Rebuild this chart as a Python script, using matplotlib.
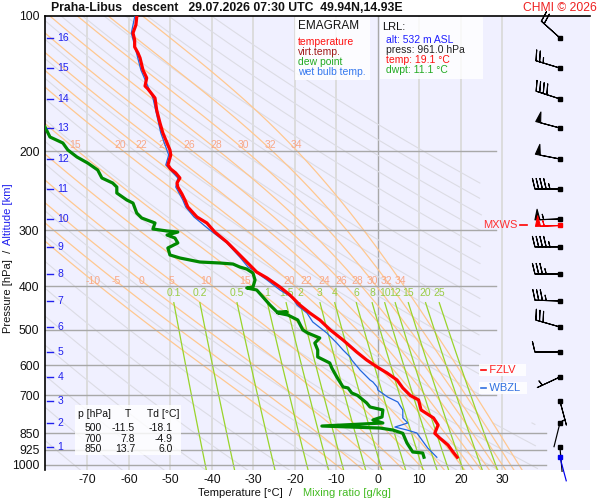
import numpy as np
import matplotlib
matplotlib.use("Agg")
import matplotlib.pyplot as plt
from matplotlib.patches import Rectangle

plt.rcParams['font.family'] = ['Liberation Sans', 'DejaVu Sans']

# ---------------- data ----------------
# temperature profile
T_p = [100.5, 104.7, 109.1, 113.1, 117.2, 120.9, 124.0, 131.9, 137.4, 143.2, 145.4, 152.3,
       161.9, 173.1, 182.2, 191.8, 198.8, 204.0, 214.7, 219.2, 223.7, 229.5, 235.5, 240.4,
       249.2, 256.9, 266.3, 280.3, 289.1, 302.8, 318.6, 335.4, 353.1, 371.7, 383.3, 401.4,
       418.2, 440.2, 458.6, 475.4, 500.0, 526.8, 560.3, 583.7, 604.9, 623.8, 646.6, 673.6,
       700.0, 716.4, 754.1, 785.7, 814.5, 850.0, 870.9, 902.7, 935.6, 961.0]
T_t = [-58.1, -58.3, -59.0, -58.6, -58.6, -57.8, -57.3, -56.6, -55.7, -56.1, -55.4, -53.7,
       -53.3, -52.5, -51.8, -50.8, -50.1, -49.9, -50.6, -49.9, -48.7, -47.7, -48.4, -48.2,
       -47.2, -46.5, -45.8, -43.6, -41.2, -39.3, -36.4, -34.0, -31.6, -29.2, -26.7, -23.6,
       -21.2, -18.8, -16.4, -14.0, -11.5, -8.4, -5.1, -2.7, -0.2, 2.2, 4.6, 6.0,
       7.8, 9.8, 10.4, 13.4, 14.5, 13.7, 14.9, 16.9, 18.1, 19.1]

# dew point profile
Td_p = [176.7, 186.0, 191.8, 198.8, 206.1, 212.6, 220.3, 229.5, 235.5, 240.4, 247.9, 256.9,
        261.0, 274.7, 281.8, 289.1, 298.1, 301.2, 302.8, 307.5, 312.2, 320.2, 328.6, 340.6,
        345.9, 353.1, 354.9, 356.8, 362.2, 366.1, 373.6, 387.3, 401.4, 403.4, 407.6, 422.5,
        440.2, 456.3, 456.3, 458.6, 463.4, 475.4, 500.0, 508.2, 521.4, 535.0, 554.5, 574.6,
        592.6, 608.1, 636.8, 670.1, 673.6, 691.1, 700.0, 727.6, 742.7, 754.1, 781.7, 793.9,
        806.2, 818.9, 827.3, 835.8, 850.0, 893.4, 935.6, 940.4, 961.0]
Td_t = [-80.2, -79.0, -75.9, -74.7, -72.5, -69.9, -67.5, -66.5, -63.9, -62.9, -62.9, -60.5,
        -59.0, -58.1, -56.9, -53.7, -54.2, -50.8, -48.2, -50.8, -48.9, -48.2, -50.6, -50.1,
        -47.7, -42.9, -38.1, -34.9, -33.3, -31.6, -30.1, -29.6, -30.1, -31.6, -29.2, -27.7,
        -26.0, -24.3, -21.9, -24.1, -21.7, -19.3, -18.1, -16.9, -14.0, -15.2, -14.5, -14.5,
        -11.6, -11.1, -9.9, -8.4, -7.2, -6.3, -4.9, -2.7, -1.9, 1.2, 1.0, -1.2,
        1.2, -13.5, 0.5, 3.6, 6.0, 7.0, 8.4, 10.8, 11.1]

# wet bulb temperature profile
Tw_p = [100.5, 109.1, 131.9, 152.3, 182.2, 204.0, 214.7, 229.5, 240.4, 256.9, 266.3, 280.3,
        299.7, 320.2, 344.1, 362.2, 368.0, 387.3, 407.6, 424.7, 440.2, 458.6, 480.2, 508.2,
        535.0, 554.5, 574.6, 583.7, 614.4, 646.6, 653.3, 670.1, 681.0, 706.1, 724.0, 754.1,
        785.7, 806.2, 823.1, 835.8, 848.7, 879.6, 916.6, 961.0]
Tw_t = [-58.6, -59.4, -57.1, -54.2, -52.3, -50.4, -51.1, -48.2, -48.7, -47.0, -46.3, -44.3,
        -40.5, -36.4, -33.3, -31.3, -30.1, -26.7, -23.6, -20.5, -19.5, -17.1, -15.7, -12.3,
        -9.9, -8.4, -6.7, -6.3, -4.3, -1.9, -1.2, -0.2, 0.0, 2.4, 4.8, 6.0,
        6.0, 7.2, 4.1, 7.0, 9.4, 10.6, 12.0, 14.2]

# altitude marks (km) and winds at those heights
alt_km = ['16', '15', '14', '13', '12', '11', '10', '9', '8', '7', '6', '5', '4', '3', '2', '1']
alt_p = [111.9, 130.6, 153.0, 177.6, 208.2, 242.8, 283.2, 326.8, 375.4, 431.3, 492.7, 560.3,
         636.8, 720.2, 806.2, 912.0]
wind_dir = [312, 287, 288, 285, 281, 270, 268, 270, 270, 272, 286, 270, 245, 165, 194, 175]
wind_kt = [20, 25, 40, 50, 50, 45, 55, 45, 35, 35, 30, 10, 5, 5, 3, 3]
mxws_p, mxws_dir, mxws_kt = 292.1, 268, 55
sfc_p, sfc_dir, sfc_kt = 961.0, 165, 3

# levels
fzlv_p = 614.4
wbzl_p = 673.6

# diagram furniture
p_levels = [200, 300, 400, 500, 600, 700, 850, 925, 1000]
p_ticks = [100, 200, 300, 400, 500, 600, 700, 850, 925, 1000]
t_ticks = [-70, -60, -50, -40, -30, -20, -10, 0, 10, 20, 30]
theta_dry = list(range(200, 451, 10))  # K
theta_w = [-10, -5, 0, 5, 10, 15, 20, 22, 24, 26, 28, 30, 32, 34]
theta_w_top = [15, 20, 22, 24, 26, 28, 30, 32, 34]
mix_r = [0.1, 0.2, 0.5, 1, 1.5, 2, 3, 4, 6, 8, 10, 12, 15, 20, 25]

table_p = ['500', '700', '850']
table_T = ['-11.5', '7.8', '13.7']
table_Td = ['-18.1', '-4.9', '6.0']

# ---------------- figure ----------------
W, H = 600, 500
fig = plt.figure(figsize=(6, 5), dpi=100)
fig.patch.set_facecolor('white')
fx = lambda px: px / W
fy = lambda py: 1 - py / H

ax = fig.add_axes([fx(45), fy(470), 545 / W, 454 / H])
ax.set_facecolor('#F0F0FF')
ax.set_yscale('log')
PBOT, PTOP = 1026, 100
TMIN, TMAX = -80.2, 51.1
ax.set_ylim(PBOT, PTOP)
ax.set_xlim(TMIN, TMAX)
for s in ['right', 'bottom']:
    ax.spines[s].set_visible(False)
ax.spines['top'].set_linewidth(1.2)
ax.spines['left'].set_linewidth(1.2)

ax.set_yticks(p_ticks)
ax.set_yticklabels([str(v) for v in p_ticks])
ax.yaxis.set_minor_locator(matplotlib.ticker.NullLocator())
ax.set_xticks(t_ticks)
ax.set_xticklabels([str(v) for v in t_ticks])
ax.tick_params(axis='both', length=0, labelsize=8.7, colors='#111111')
ax.tick_params(axis='y', pad=4)
ax.tick_params(axis='x', pad=3)

# vertical grid
for t in t_ticks:
    ax.plot([t, t], [PBOT, PTOP], color='#A8A8A8' if t == 0 else '#DADADA',
            lw=1.0 if t == 0 else 1.3, zorder=1)
# horizontal grid
for p in p_levels:
    xend = 40.5 if p >= 850 else 28.5
    ax.plot([TMIN, xend], [p, p], color='#A8A8A8', lw=1.0, zorder=1.5)

# dry adiabats
pp = np.geomspace(PTOP, PBOT, 300)
for th in theta_dry:
    t = th * (pp / 1000.0) ** 0.2857 - 273.15
    lim = np.where(pp < 800, 25.0, 38.5)
    t = np.where(t <= lim, t, np.nan)
    ax.plot(t, pp, color='#DCDCE4', lw=0.8, zorder=1.2)

# pseudo-adiabats
Rd, Cp, Lv, eps = 287.04, 1005.7, 2.501e6, 0.622

def es(Tk):
    return 6.112 * np.exp(17.67 * (Tk - 273.15) / (Tk - 29.65))

def dTdp(Tk, p):
    e = es(Tk)
    rs = eps * e / (p - e)
    return (Rd * Tk + Lv * rs) / (Cp + Lv * Lv * rs * eps / (Rd * Tk * Tk)) / p

def moist(tw, parr):
    out = [tw + 273.15]
    for i in range(1, len(parr)):
        p0, p1 = parr[i - 1], parr[i]
        h = p1 - p0
        T0 = out[-1]
        k1 = dTdp(T0, p0)
        k2 = dTdp(T0 + h * k1 / 2, p0 + h / 2)
        k3 = dTdp(T0 + h * k2 / 2, p0 + h / 2)
        k4 = dTdp(T0 + h * k3, p1)
        out.append(T0 + h * (k1 + 2 * k2 + 2 * k3 + k4) / 6)
    return np.array(out) - 273.15

p_up = np.geomspace(1000, PTOP, 400)
p_dn = np.geomspace(1000, PBOT, 10)
moist_lines = {}
for tw in theta_w:
    tu = moist(tw, p_up)
    td_ = moist(tw, p_dn)
    P = np.concatenate([p_dn[::-1], p_up[1:]])
    Tm = np.concatenate([td_[::-1], tu[1:]])
    moist_lines[tw] = (P, Tm)
    ax.plot(Tm, P, color='#FFC890', lw=0.9, zorder=1.3)

def interp_line(tw, p):
    P, Tm = moist_lines[tw]
    return np.interp(np.log(p), np.log(P[::-1]), Tm[::-1])

lab_col = '#F8A888'
for tw in theta_w:
    ax.text(interp_line(tw, 389.0), 389.0, str(tw), color=lab_col, fontsize=7.5,
            ha='center', va='center', zorder=3)
for tw in theta_w_top:
    ax.text(interp_line(tw, 193.8) + 1.2, 193.8, str(tw), color=lab_col, fontsize=7.5,
            ha='center', va='center', zorder=3)

# mixing ratio lines
pm = np.geomspace(435, PBOT, 60)
for w in mix_r:
    e = w * pm / (622.0 + w)
    a = np.log(e / 6.112)
    tdm = 243.5 * a / (17.67 - a)
    ax.plot(tdm, pm, color='#99D42A', lw=0.9, zorder=1.4)
    lab = ('%g' % w)
    ax.text(tdm[0], 413, lab, color='#99CC44', fontsize=7.5, ha='center', va='center', zorder=3)

# profiles
ax.plot(Tw_t, Tw_p, color='#2266DD', lw=0.9, zorder=4)
ax.plot(Td_t, Td_p, color='#008800', lw=2.3, zorder=4.5)
ax.plot(T_t, T_p, color='#FF0000', lw=2.3, zorder=5)

# altitude marks
acol = '#2020EE'
for p, lab in zip(alt_p, alt_km):
    ax.plot([-79.8, -78.2], [p, p], color=acol, lw=1.0, zorder=6)
    ax.text(-77.2, p, lab, color=acol, fontsize=7.5, ha='left', va='center', zorder=6)

# winds
xw = (560 - 378) / 4.15
def uv(d, s):
    return -s * np.sin(np.radians(d)), -s * np.cos(np.radians(d))

strong = [i for i, s in enumerate(wind_kt) if s >= 5]
weak = [i for i, s in enumerate(wind_kt) if s < 5]
u = [uv(wind_dir[i], wind_kt[i] + 0.01)[0] for i in strong]
v = [uv(wind_dir[i], wind_kt[i] + 0.01)[1] for i in strong]
bkw = dict(length=6, pivot='tip', linewidth=0.8, zorder=6, clip_on=False,
           sizes=dict(spacing=0.15, height=0.42, width=0.2))
ax.barbs([xw] * len(strong), [alt_p[i] for i in strong], u, v, color='k', **bkw)
mu, mv = uv(mxws_dir, mxws_kt + 0.01)
ax.barbs([xw], [mxws_p], [mu], [mv], color='#FF0000', **bkw)
qkw = dict(angles='uv', pivot='tip', units='dots', scale_units='dots', scale=1 / 25.0,
           headwidth=0, headlength=0, headaxislength=0, width=1.2, zorder=6, clip_on=False)
wu = [np.sin(np.radians(wind_dir[i]) + np.pi) for i in weak]
wv = [np.cos(np.radians(wind_dir[i]) + np.pi) for i in weak]
ax.quiver([xw] * len(weak), [alt_p[i] for i in weak], wu, wv, color='k', **qkw)
ax.quiver([xw], [sfc_p], [np.sin(np.radians(sfc_dir) + np.pi)], [np.cos(np.radians(sfc_dir) + np.pi)],
          color='#0000EE', **qkw)
ax.plot([xw] * len(alt_p), alt_p, 's', ms=2.2, color='k', zorder=7, clip_on=False)
ax.plot([xw], [mxws_p], 's', ms=2.2, color='#FF0000', zorder=7)
ax.plot([xw], [sfc_p], 's', ms=2.2, color='#0000EE', zorder=7)

# level labels
ax.text(33.6, mxws_p, 'MXWS', color='#FF3030', fontsize=8, ha='right', va='center', zorder=6)
ax.plot([34.2, 36.0], [mxws_p, mxws_p], color='#FF0000', lw=1.2, zorder=6)
ax.text(24.6, fzlv_p, '   FZLV   ', color='#FF2020', fontsize=8, ha='left', va='center', zorder=6,
        bbox=dict(facecolor='white', alpha=0.85, edgecolor='none', pad=0.8))
ax.plot([24.8, 26.1], [fzlv_p, fzlv_p], color='#FF0000', lw=1.2, zorder=7)
ax.text(24.6, wbzl_p, '   WBZL  ', color='#3070E0', fontsize=8, ha='left', va='center', zorder=6,
        bbox=dict(facecolor='white', alpha=0.85, edgecolor='none', pad=0.8))
ax.plot([24.8, 26.1], [wbzl_p, wbzl_p], color='#3070E0', lw=1.2, zorder=7)

# boxes
def box(x0, y0, x1, y1, a=0.82):
    r = Rectangle((fx(x0), fy(y1)), (x1 - x0) / W, (y1 - y0) / H, transform=fig.transFigure,
                  facecolor='white', alpha=a, edgecolor='none', zorder=8)
    fig.add_artist(r)

box(295, 17, 370, 80)
box(380, 17, 483, 79)
box(75, 405, 181, 455)

def ftxt(x, y, s, c='#111111', size=7.5, ha='left', **kw):
    fig.text(fx(x), fy(y), s, color=c, fontsize=size, ha=ha, va='center', zorder=9, **kw)

ftxt(298, 26, 'EMAGRAM', size=8.5)
ftxt(298, 42, 'temperature', '#FF1010')
ftxt(298, 52, 'virt.temp.', '#A01818')
ftxt(298, 62, 'dew point', '#22AA22')
ftxt(298, 72, 'wet bulb temp.', '#3377EE')

ftxt(382, 27, 'LRL:', size=8)
ftxt(386, 40, 'alt: 532 m ASL', '#2020FF')
ftxt(386, 50, 'press: 961.0 hPa', '#222222')
ftxt(386, 60, 'temp: 19.1 °C', '#FF1010')
ftxt(386, 70, 'dwpt: 11.1 °C', '#22AA22')

ftxt(78, 414, 'p [hPa]', size=7.5)
ftxt(125, 414, 'T', size=7.5)
ftxt(147, 414, 'Td [°C]', size=7.5)
for i, y in enumerate([428, 438.5, 449]):
    ftxt(102, y, table_p[i], ha='right')
    ftxt(135, y, table_T[i], ha='right')
    ftxt(173, y, table_Td[i], ha='right')

# title
ftxt(51, 8, 'Praha-Libus   descent   29.07.2026 07:30 UTC  49.94N,14.93E', size=8.8,
     fontweight='bold')
ftxt(597, 8, 'CHMI © 2026', '#EE2020', size=8.7, ha='right')

# axis labels
ftxt(198, 493, 'Temperature [°C]  /', size=8)
ftxt(303, 493, 'Mixing ratio [g/kg]', '#44BB22', size=8)
fig.text(fx(8), fy(333), 'Pressure [hPa]  /', rotation=90, ha='center', va='bottom',
         fontsize=8, color='#111111')
fig.text(fx(8), fy(183), 'Altitude [km]', rotation=90, ha='center', va='top',
         fontsize=8, color='#2020EE')

fig.savefig('out.png', dpi=100)
